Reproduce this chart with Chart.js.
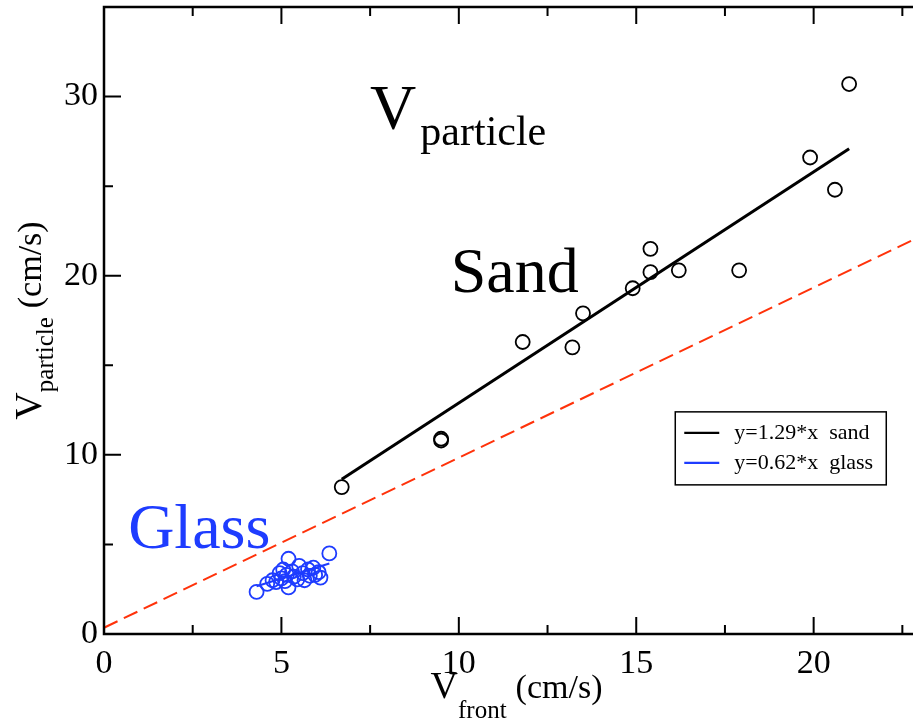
<!DOCTYPE html>
<html>
<head>
<meta charset="utf-8">
<script src="https://cdn.jsdelivr.net/npm/chart.js@4"></script>
<style>
  body { margin: 0; background: #fff; }
</style>
</head>
<body>
<canvas id="velocityChart" width="913" height="725"></canvas>
<script>
// sand runs: front speed vs particle speed (cm/s)
const sandFront = [6.7, 9.5, 9.5, 11.8, 13.2, 13.5, 14.9, 15.4, 15.4, 16.2, 17.9, 19.9, 20.6, 21.0];
const sandParticle = [8.2, 10.8, 10.9, 16.3, 16.0, 17.9, 19.3, 21.5, 20.2, 20.3, 20.3, 26.6, 24.8, 30.7];

// glass bead runs
const glassFront = [4.3, 4.6, 4.75, 4.85, 4.95, 5.0, 5.05, 5.1, 5.15, 5.2, 5.2, 5.3, 5.35, 5.45,
                    5.5, 5.6, 5.65, 5.75, 5.8, 5.9, 5.95, 6.05, 6.1, 6.35];
const glassParticle = [2.35, 2.8, 3.0, 2.9, 3.4, 3.1, 3.6, 2.95, 3.3, 4.2, 2.6, 3.5, 3.2, 3.05,
                       3.8, 3.4, 3.0, 3.6, 3.25, 3.7, 3.3, 3.45, 3.15, 4.5];

// linear fits through the origin
const sandSlope = 1.29;
const glassSlope = 0.62;
const sandFitRange = [6.7, 21.0];
const glassFitRange = [4.3, 6.35];

// dashed reference line
const refX = [0, 22.8];
const refY = [0.35, 22.0];

const xMajor = [0, 5, 10, 15, 20];
const xMinor = [2.5, 7.5, 12.5, 17.5, 22.5];
const yMajor = [0, 10, 20, 30];
const yMinor = [5, 15, 25];

const BLUE = 'rgb(30, 60, 255)';
const RED = 'rgb(255, 50, 10)';
const SERIF = '"Liberation Serif", "Times New Roman", serif';

const toPoints = (xs, ys) => xs.map((x, i) => ({ x: x, y: ys[i] }));
const fitPoints = (range, k) => range.map(x => ({ x: x, y: k * x }));

// text with a subscript part, e.g. V_front (cm/s)
function subText(ctx, parts, x, y, measureOnly) {
  let w = 0;
  parts.forEach(p => {
    ctx.font = p.size + 'px ' + SERIF;
    if (!measureOnly) ctx.fillText(p.text, x + w, y + (p.drop || 0));
    w += ctx.measureText(p.text).width + (p.gap || 0);
  });
  return w;
}

const framePlugin = {
  id: 'frame',
  afterDatasetsDraw(chart) {
    const { ctx, chartArea: a, scales: { x, y } } = chart;
    ctx.save();
    ctx.strokeStyle = '#000';
    ctx.lineWidth = 2.5;
    ctx.beginPath();
    ctx.moveTo(a.right + 2, a.top);
    ctx.lineTo(a.left, a.top);
    ctx.lineTo(a.left, a.bottom);
    ctx.lineTo(a.right + 2, a.bottom);
    ctx.stroke();

    // inward tick marks
    ctx.lineWidth = 2;
    ctx.beginPath();
    const xt = (v, len) => {
      const px = x.getPixelForValue(v);
      ctx.moveTo(px, a.bottom); ctx.lineTo(px, a.bottom - len);
      ctx.moveTo(px, a.top); ctx.lineTo(px, a.top + len);
    };
    const yt = (v, len) => {
      const py = y.getPixelForValue(v);
      ctx.moveTo(a.left, py); ctx.lineTo(a.left + len, py);
    };
    xMajor.forEach(v => xt(v, 17));
    xMinor.forEach(v => xt(v, 9));
    yMajor.forEach(v => yt(v, 17));
    yMinor.forEach(v => yt(v, 9));
    ctx.stroke();

    // annotations
    ctx.fillStyle = '#000';
    ctx.textBaseline = 'alphabetic';
    ctx.textAlign = 'left';
    subText(ctx, [{ text: 'V', size: 64, gap: 4 }, { text: 'particle', size: 42, drop: 16 }],
      x.getPixelForValue(7.5), y.getPixelForValue(28.2));
    ctx.font = '64px ' + SERIF;
    ctx.fillText('Sand', x.getPixelForValue(9.77), y.getPixelForValue(19.1));
    ctx.fillStyle = BLUE;
    ctx.fillText('Glass', x.getPixelForValue(0.68), y.getPixelForValue(4.8));

    // legend box
    const lx = x.getPixelForValue(16.1), ly = y.getPixelForValue(12.4);
    ctx.fillStyle = '#fff';
    ctx.fillRect(lx, ly, 211, 73);
    ctx.strokeStyle = '#000';
    ctx.lineWidth = 1.5;
    ctx.strokeRect(lx, ly, 211, 73);
    const rows = [['#000', 'y=1.29*x  sand'], [BLUE, 'y=0.62*x  glass']];
    ctx.font = '22px ' + SERIF;
    rows.forEach((r, i) => {
      const ry = ly + 21 + i * 30;
      ctx.strokeStyle = r[0];
      ctx.lineWidth = 2.2;
      ctx.beginPath();
      ctx.moveTo(lx + 9, ry); ctx.lineTo(lx + 44, ry);
      ctx.stroke();
      ctx.fillStyle = '#000';
      ctx.textBaseline = 'middle';
      ctx.fillText(r[1].replace('  ', '\u2002'), lx + 59, ry);
    });

    // axis titles
    ctx.fillStyle = '#000';
    ctx.textBaseline = 'alphabetic';
    const xParts = [{ text: 'V', size: 38 }, { text: 'front', size: 25, drop: 20, gap: 9 }, { text: '(cm/s)', size: 34 }];
    const xw = subText(ctx, xParts, 0, 0, true);
    subText(ctx, xParts, (a.left + a.right) / 2 - xw / 2 + 8, 698);

    const yParts = [{ text: 'V', size: 38 }, { text: 'particle', size: 25, drop: 12, gap: 9 }, { text: '(cm/s)', size: 34 }];
    const yw = subText(ctx, yParts, 0, 0, true);
    ctx.translate(41, (a.top + a.bottom) / 2);
    ctx.rotate(-Math.PI / 2);
    subText(ctx, yParts, -yw / 2, 0);
    ctx.restore();
  }
};

const tickFont = { family: SERIF, size: 34 };

new Chart(document.getElementById('velocityChart'), {
  type: 'scatter',
  data: {
    datasets: [
      {
        label: 'sand',
        data: toPoints(sandFront, sandParticle),
        borderColor: '#000',
        backgroundColor: 'transparent',
        pointRadius: 7,
        borderWidth: 1.8
      },
      {
        label: 'glass',
        data: toPoints(glassFront, glassParticle),
        borderColor: BLUE,
        backgroundColor: 'transparent',
        pointRadius: 7,
        borderWidth: 1.8
      },
      {
        type: 'line',
        label: 'y=1.29*x sand',
        data: fitPoints(sandFitRange, sandSlope),
        borderColor: '#000',
        borderWidth: 3,
        pointRadius: 0
      },
      {
        type: 'line',
        label: 'y=0.62*x glass',
        data: fitPoints(glassFitRange, glassSlope),
        borderColor: BLUE,
        borderWidth: 2,
        pointRadius: 0
      },
      {
        type: 'line',
        label: 'reference',
        data: toPoints(refX, refY),
        borderColor: RED,
        borderWidth: 2,
        borderDash: [15, 7],
        pointRadius: 0
      }
    ]
  },
  options: {
    responsive: false,
    animation: false,
    layout: { autoPadding: false, padding: { top: 7, right: 0, left: 0, bottom: 0 } },
    plugins: { legend: { display: false }, tooltip: { enabled: false } },
    scales: {
      x: {
        type: 'linear',
        min: 0,
        max: 22.8,
        grid: { display: false, drawTicks: false },
        border: { display: false },
        ticks: { stepSize: 5, includeBounds: false, color: '#000', font: tickFont, padding: 10, maxRotation: 0 },
        afterFit: s => {
          s.height = 91;
          s.paddingLeft = 0;
          s.paddingRight = 0;
        }
      },
      y: {
        min: 0,
        max: 35,
        grid: { display: false, drawTicks: false },
        border: { display: false },
        ticks: { stepSize: 10, includeBounds: false, color: '#000', font: tickFont, padding: 6 },
        afterFit: s => {
          s.width = 104;
          s.paddingTop = 0;
          s.paddingBottom = 0;
        }
      }
    }
  },
  plugins: [framePlugin]
});
</script>
</body>
</html>
